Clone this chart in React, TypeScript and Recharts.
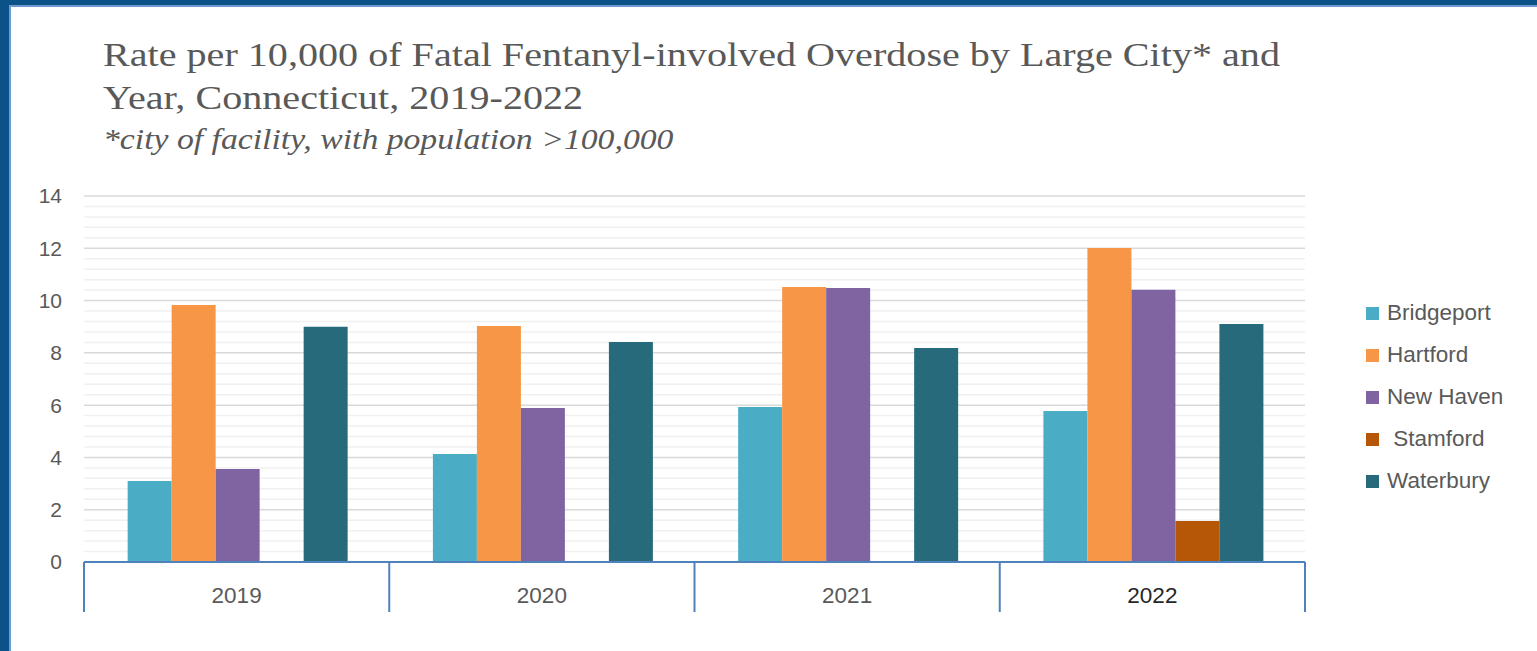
import React from "react";
import { BarChart, Bar, XAxis, YAxis, CartesianGrid } from "recharts";

const years = ["2019", "2020", "2021", "2022"];
const bridgeport = [3.1, 4.13, 5.93, 5.78];
const hartford = [9.83, 9.03, 10.52, 12.01];
const newHaven = [3.56, 5.89, 10.48, 10.41];
const stamford = [null, null, null, 1.57];
const waterbury = [9.0, 8.42, 8.19, 9.1];

const yTicks = [0, 2, 4, 6, 8, 10, 12, 14];
const minorGrid = Array.from({ length: 36 }, (_, i) => Math.round(i * 4) / 10).filter(
  (v) => Math.round(v * 10) % 20 !== 0
);

const series = [
  { key: "bridgeport", name: "Bridgeport", color: "#4BACC6", values: bridgeport },
  { key: "hartford", name: "Hartford", color: "#F79646", values: hartford },
  { key: "newHaven", name: "New Haven", color: "#8064A2", values: newHaven },
  { key: "stamford", name: " Stamford", color: "#B65708", values: stamford },
  { key: "waterbury", name: "Waterbury", color: "#276A7C", values: waterbury },
];

const data = years.map((y, i) => {
  const row: any = { year: y };
  series.forEach((s) => {
    row[s.key] = s.values[i];
  });
  return row;
});

const W = 1537;
const H = 651;
const PLOT_LEFT = 84;
const PLOT_RIGHT = 1305;
const PLOT_TOP = 196;
const PLOT_BOTTOM = 562;
const SANS = "'Liberation Sans', Arial, sans-serif";
const SERIF = "'Liberation Serif', 'DejaVu Serif', serif";

const YearTick = (props: any) => {
  const { x, y, payload, index } = props;
  const half =
    payload && typeof payload.offset === "number" && payload.offset > 0
      ? payload.offset
      : (PLOT_RIGHT - PLOT_LEFT) / years.length / 2;
  const isLast = index === years.length - 1;
  return (
    <g>
      <line x1={x - half} x2={x - half} y1={y} y2={y + 50} stroke="#4F81BD" strokeWidth={2} />
      {isLast && (
        <line x1={x + half} x2={x + half} y1={y} y2={y + 50} stroke="#4F81BD" strokeWidth={2} />
      )}
      <text
        x={x}
        y={y + 41}
        textAnchor="middle"
        fontFamily={SANS}
        fontSize={22.5}
        fill={isLast ? "#262626" : "#595959"}
      >
        {payload.value}
      </text>
    </g>
  );
};

export default function App() {
  return (
    <div
      style={{
        position: "absolute",
        left: 0,
        top: 0,
        width: W,
        height: H,
        background: "#ffffff",
        overflow: "hidden",
      }}
    >
      {/* frame */}
      <div style={{ position: "absolute", left: 0, top: 0, width: W, height: 5, background: "#0B5289" }} />
      <div style={{ position: "absolute", left: 0, top: 0, width: 9, height: H, background: "#0B5289" }} />
      <div style={{ position: "absolute", left: 9, top: 5, width: W - 9, height: 2, background: "#6C9BD2" }} />
      <div style={{ position: "absolute", left: 9, top: 5, width: 2, height: H - 5, background: "#6C9BD2" }} />

      <div style={{ position: "absolute", left: 0, top: 0 }}>
        <BarChart
          width={W}
          height={H}
          data={data}
          margin={{ top: PLOT_TOP, right: W - PLOT_RIGHT, bottom: H - PLOT_BOTTOM - 50, left: PLOT_LEFT - 60 }}
          barCategoryGap="14.3%"
          barGap={0}
        >
          <CartesianGrid
            vertical={false}
            horizontalValues={minorGrid}
            stroke="#F0F0F0"
            strokeWidth={1.5}
          />
          <CartesianGrid
            vertical={false}
            horizontalValues={yTicks}
            stroke="#D9D9D9"
            strokeWidth={1.5}
          />
          <YAxis
            type="number"
            domain={[0, 14]}
            ticks={yTicks}
            width={60}
            axisLine={false}
            tickLine={false}
            tickSize={0}
            tickMargin={22}
            tick={{ fontFamily: SANS, fontSize: 21, fill: "#595959" }}
            interval={0}
          />
          <XAxis
            dataKey="year"
            height={50}
            axisLine={{ stroke: "#4F81BD", strokeWidth: 2 }}
            tickLine={false}
            tickSize={0}
            tickMargin={0}
            interval={0}
            tick={<YearTick />}
          />
          {series.map((s) => (
            <Bar key={s.key} dataKey={s.key} name={s.name} fill={s.color} isAnimationActive={false} />
          ))}
        </BarChart>
      </div>

      {/* title */}
      <div
        style={{
          position: "absolute",
          left: 103,
          top: 33,
          fontFamily: SERIF,
          fontSize: 34,
          lineHeight: "43px",
          color: "#595959",
          whiteSpace: "nowrap",
          transform: "scaleX(1.18)",
          transformOrigin: "0 0",
        }}
      >
        <div>Rate per 10,000 of Fatal Fentanyl-involved Overdose by Large City* and</div>
        <div>Year, Connecticut, 2019-2022</div>
        <div style={{ fontStyle: "italic", fontSize: 29, lineHeight: "41px", transform: "scaleX(0.985)", transformOrigin: "0 0" }}>
          *city of facility, with population &gt;100,000
        </div>
      </div>

      {/* legend */}
      <div style={{ position: "absolute", left: 1366, top: 292 }}>
        {series.map((s) => (
          <div
            key={s.key}
            style={{ display: "flex", alignItems: "center", height: 42, fontFamily: SANS, fontSize: 22.5, color: "#595959" }}
          >
            <span style={{ display: "inline-block", width: 13, height: 13, background: s.color, marginRight: 8 }} />
            <span style={{ whiteSpace: "pre" }}>{s.name}</span>
          </div>
        ))}
      </div>
    </div>
  );
}
